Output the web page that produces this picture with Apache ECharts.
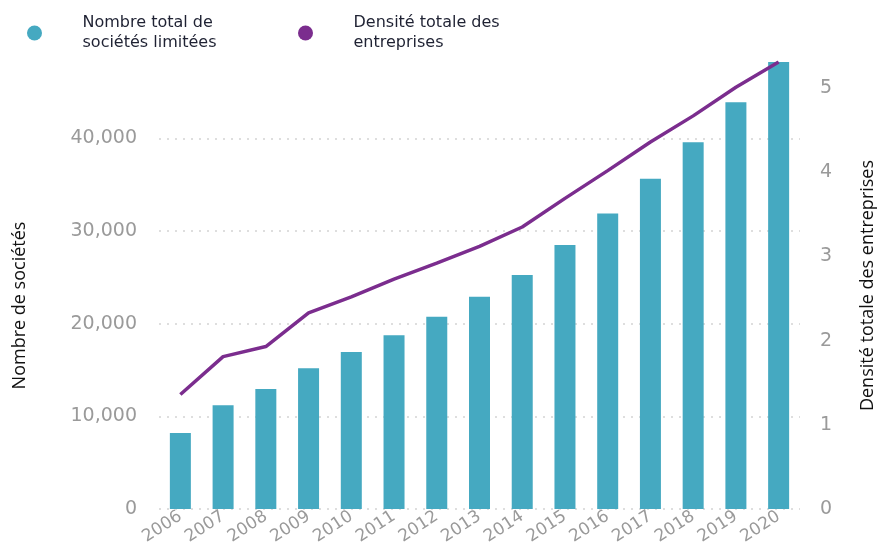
<!DOCTYPE html>
<html>
<head>
<meta charset="utf-8">
<script src="https://cdn.jsdelivr.net/npm/echarts@6/dist/echarts.min.js"></script>
<style>
  html, body { margin: 0; padding: 0; background: #ffffff; }
  #chart { width: 878px; height: 548px; }
</style>
</head>
<body>
<div id="chart"></div>
<script>
const years = ['2006','2007','2008','2009','2010','2011','2012','2013','2014','2015','2016','2017','2018','2019','2020'];
const companies = [8200, 11200, 12950, 15200, 16950, 18750, 20750, 22900, 25250, 28500, 31900, 35650, 39600, 43900, 48250];
const density = [1.36, 1.81, 1.93, 2.33, 2.52, 2.73, 2.92, 3.12, 3.35, 3.69, 4.02, 4.36, 4.67, 5.01, 5.31];
const seriesNames = ['Nombre total de sociétés limitées', 'Densité totale des entreprises'];
const legendLabels = ['Nombre total de\nsociétés limitées', 'Densité totale des\nentreprises'];
const leftAxisName = 'Nombre de sociétés';
const rightAxisName = 'Densité totale des entreprises';

const chart = echarts.init(document.getElementById('chart'));
const tickFont = 'DejaVu Sans';
const legendText = {
  color: '#1f2233', fontFamily: 'DejaVu Sans', fontSize: 16, lineHeight: 20,
  padding: [0, 0, 0, 35]
};
chart.setOption({
  animation: false,
  backgroundColor: '#ffffff',
  legend: [
    {
      data: [{ name: seriesNames[0], icon: 'circle' }],
      left: 22, top: 8, itemWidth: 16, itemHeight: 15,
      formatter: () => legendLabels[0],
      textStyle: legendText
    },
    {
      data: [{ name: seriesNames[1], icon: 'circle' }],
      left: 293, top: 8, itemWidth: 16, itemHeight: 15,
      formatter: () => legendLabels[1],
      textStyle: legendText
    }
  ],
  grid: { left: 159, right: 78, top: 62, bottom: 39, outerBoundsMode: 'none', containLabel: false },
  xAxis: {
    type: 'category',
    data: years,
    axisLine: { show: false },
    axisTick: { show: false },
    axisLabel: {
      rotate: 33, margin: 6, color: '#9a9a9a',
      fontFamily: tickFont, fontSize: 17, interval: 0
    }
  },
  yAxis: [
    {
      type: 'value', min: 0, max: 'dataMax', interval: 10000,
      name: leftAxisName, nameLocation: 'middle', nameGap: 130, nameRotate: 90,
      nameTextStyle: { color: '#111111', fontFamily: 'Open Sans', fontSize: 18, padding: [0, 40, 0, 0] },
      axisLine: { show: false }, axisTick: { show: false },
      axisLabel: {
        color: '#9a9a9a', fontFamily: tickFont, fontSize: 19, margin: 22,
        showMaxLabel: false,
        formatter: v => v.toLocaleString('en-US')
      },
      splitLine: {
        show: true, showMaxLine: false,
        lineStyle: { color: '#d4d4d4', type: [2, 6], width: 1.5 }
      }
    },
    {
      type: 'value', min: 0, max: 'dataMax', interval: 1,
      name: rightAxisName, nameLocation: 'middle', nameGap: 59, nameRotate: 90,
      nameTextStyle: { color: '#111111', fontFamily: 'Open Sans', fontSize: 18 },
      axisLine: { show: false }, axisTick: { show: false },
      axisLabel: {
        color: '#9a9a9a', fontFamily: tickFont, fontSize: 19, margin: 20,
        showMaxLabel: false
      },
      splitLine: { show: false }
    }
  ],
  series: [
    {
      name: seriesNames[0], type: 'bar', yAxisIndex: 0,
      data: companies, barWidth: 21,
      itemStyle: { color: '#45a9c1' }
    },
    {
      name: seriesNames[1], type: 'line', yAxisIndex: 1,
      data: density, showSymbol: false, symbol: 'none',
      lineStyle: { color: '#7b2d8e', width: 3.5 },
      itemStyle: { color: '#7b2d8e' }
    }
  ]
});
</script>
</body>
</html>
